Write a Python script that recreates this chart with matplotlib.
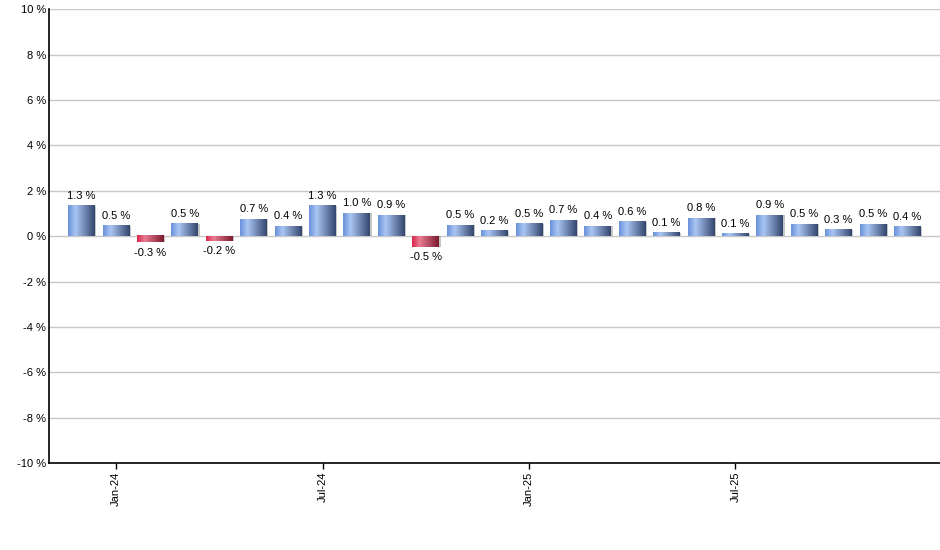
import numpy as np
import matplotlib
matplotlib.use("Agg")
import matplotlib.pyplot as plt
from matplotlib.colors import LinearSegmentedColormap

plt.rcParams["font.family"] = ["Liberation Sans", "DejaVu Sans"]

# monthly change, Dec-23 .. Dec-25
months = ["Dec-23", "Jan-24", "Feb-24", "Mar-24", "Apr-24", "May-24", "Jun-24",
          "Jul-24", "Aug-24", "Sep-24", "Oct-24", "Nov-24", "Dec-24",
          "Jan-25", "Feb-25", "Mar-25", "Apr-25", "May-25", "Jun-25",
          "Jul-25", "Aug-25", "Sep-25", "Oct-25", "Nov-25", "Dec-25"]
values = [1.34, 0.46, -0.27, 0.54, -0.19, 0.74, 0.44,
          1.35, 1.01, 0.92, -0.46, 0.48, 0.24,
          0.54, 0.70, 0.44, 0.62, 0.14, 0.79,
          0.11, 0.92, 0.52, 0.29, 0.52, 0.42]
labels = ["1.3", "0.5", "-0.3", "0.5", "-0.2", "0.7", "0.4",
          "1.3", "1.0", "0.9", "-0.5", "0.5", "0.2",
          "0.5", "0.7", "0.4", "0.6", "0.1", "0.8",
          "0.1", "0.9", "0.5", "0.3", "0.5", "0.4"]
tick_months = ["Jan-24", "Jul-24", "Jan-25", "Jul-25"]
yticks = np.arange(-10, 11, 2)

blue = LinearSegmentedColormap.from_list(
    "blue", [(0, "#6a91da"), (0.28, "#aac6f4"), (1, "#34466e")])
red = LinearSegmentedColormap.from_list(
    "red", [(0, "#d8264a"), (0.28, "#ea7c94"), (1, "#7c1a2e")])
grad = np.linspace(0, 1, 64).reshape(1, -1)

fig = plt.figure(figsize=(9.4, 5.5), dpi=100)
ax = fig.add_axes([0.0521, 0.158, 0.948, 0.825])

x = np.arange(len(values))
w = 0.78
for xi, v, lab in zip(x, values, labels):
    # soft shadow
    ax.bar(xi + 0.04, v, width=w, bottom=0, color="#a0a0a0",
           alpha=0.6, zorder=2, linewidth=0)
    cmap = blue if v >= 0 else red
    ax.imshow(grad, cmap=cmap, aspect="auto", zorder=3,
              extent=(xi - w / 2, xi + w / 2, 0, v), interpolation="bilinear")
    if v >= 0:
        ax.text(xi, v + 0.22, lab + " %", ha="center", va="bottom", fontsize=8)
    else:
        ax.text(xi, v - 0.25, lab + " %", ha="center", va="top", fontsize=8)

ax.set_xlim(-0.95, 24.95)
ax.set_ylim(-10, 10)
ax.set_yticks(yticks)
ax.set_yticklabels([f"{t} %" for t in yticks], fontsize=8)
ax.set_xticks([months.index(m) for m in tick_months])
ax.set_xticklabels(tick_months, rotation=90, fontsize=8)
ax.tick_params(axis="y", length=0, pad=2)
ax.tick_params(axis="x", length=4, width=1, pad=2)
ax.grid(axis="y", color="#c8c8c8", linewidth=1, zorder=0)
ax.set_axisbelow(True)
for s in ["top", "right"]:
    ax.spines[s].set_visible(False)
for s in ["left", "bottom"]:
    ax.spines[s].set_color("black")
    ax.spines[s].set_linewidth(1.2)

fig.savefig("out.png", dpi=100)
